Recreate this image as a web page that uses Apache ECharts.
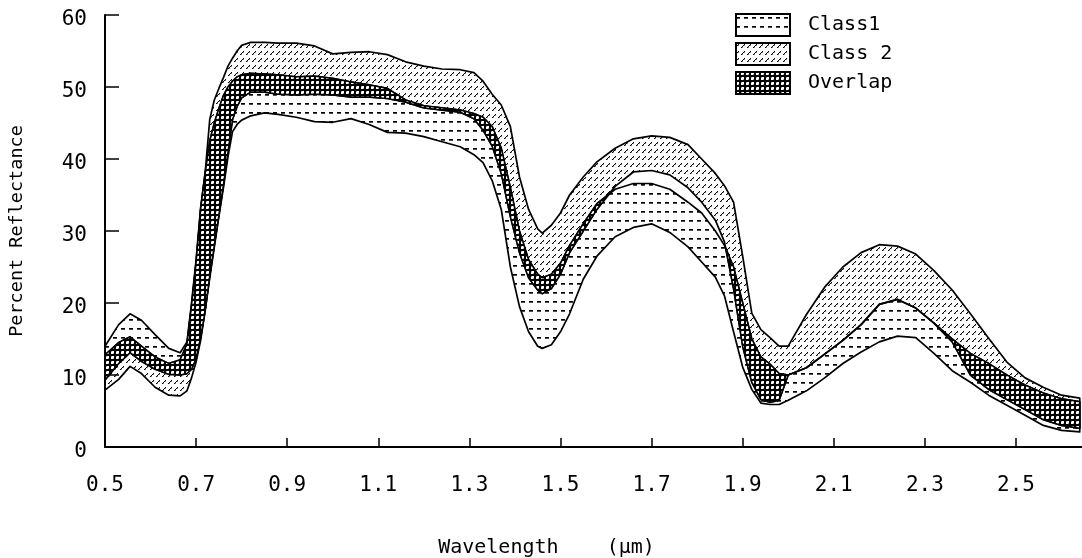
<!DOCTYPE html>
<html>
<head>
<meta charset="utf-8">
<script src="https://cdn.jsdelivr.net/npm/echarts@6/dist/echarts.min.js"></script>
<style>
  html, body { margin: 0; padding: 0; background: #ffffff; }
  #chart { width: 1082px; height: 558px; }
</style>
</head>
<body>
<div id="chart"></div>
<script>
// Wavelength samples (µm) shared by every band boundary
const wavelength = [
  0.50, 0.53, 0.555, 0.58, 0.61, 0.64, 0.665, 0.68, 0.69, 0.70,
  0.71, 0.72, 0.73, 0.74, 0.75, 0.76, 0.77, 0.78, 0.79, 0.80,
  0.82, 0.85, 0.88, 0.92, 0.96, 1.00, 1.04, 1.08, 1.12, 1.16,
  1.20, 1.24, 1.28, 1.31, 1.33, 1.35, 1.37, 1.39, 1.41, 1.43,
  1.45, 1.46, 1.48, 1.50, 1.52, 1.55, 1.58, 1.62, 1.66, 1.70,
  1.74, 1.78, 1.81, 1.84, 1.86, 1.88, 1.90, 1.92, 1.94, 1.96,
  1.98, 2.00, 2.04, 2.08, 2.12, 2.16, 2.20, 2.24, 2.28, 2.32,
  2.36, 2.40, 2.44, 2.48, 2.52, 2.56, 2.60, 2.64
];

// Class 1 reflectance range (%)
const class1High = [
  14.0, 17.0, 18.5, 17.6, 15.6, 13.7, 13.1, 14.6, 20.0, 26.0,
  33.3, 38.0, 42.5, 45.0, 47.0, 48.8, 50.0, 50.8, 51.4, 51.7,
  51.9, 51.8, 51.7, 51.4, 51.5, 51.2, 50.7, 50.3, 49.8, 48.2,
  47.4, 47.1, 46.8, 46.3, 45.8, 44.5, 41.5, 36.0, 30.0, 26.0,
  24.0, 23.5, 24.0, 25.5, 28.0, 31.0, 33.8, 35.8, 36.6, 36.6,
  35.8, 34.0, 32.5, 30.0, 28.0, 25.0, 20.0, 15.0, 12.5, 11.5,
  10.2, 10.0, 11.0, 12.9, 14.8, 17.0, 19.8, 20.5, 19.3, 17.2,
  15.0, 13.0, 11.6, 10.0, 8.6, 7.5, 6.7, 6.3
];
const class1Low = [
  9.3, 11.6, 13.1, 11.9, 10.8, 10.1, 10.0, 10.2, 10.8, 12.3,
  15.2, 19.0, 23.5, 27.8, 32.0, 36.0, 40.3, 43.8, 44.8, 45.4,
  46.0, 46.4, 46.2, 45.8, 45.2, 45.1, 45.6, 44.8, 43.7, 43.6,
  43.1, 42.4, 41.7, 40.6, 39.5, 37.0, 33.0, 25.0, 19.5, 16.0,
  14.0, 13.7, 14.2, 16.0, 18.5, 23.3, 26.5, 29.2, 30.5, 31.0,
  29.8, 27.8, 25.7, 23.6, 21.0, 16.0, 11.1, 8.0, 6.1, 5.9,
  5.9, 6.5, 7.8, 9.6, 11.6, 13.2, 14.6, 15.4, 15.2, 13.0,
  10.6, 9.0, 7.2, 5.8, 4.4, 3.0, 2.3, 2.1
];

// Class 2 reflectance range (%)
const class2High = [
  12.8, 14.5, 15.3, 14.0, 12.5, 11.6, 12.1, 14.3, 19.6, 25.6,
  33.0, 38.2, 45.5, 48.2, 49.8, 51.3, 52.9, 54.0, 55.0, 55.8,
  56.2, 56.2, 56.1, 56.1, 55.7, 54.6, 54.8, 54.9, 54.5, 53.5,
  52.9, 52.5, 52.4, 52.0, 50.8, 49.0, 47.5, 44.5, 37.5, 33.0,
  30.3, 29.7, 30.8, 32.5, 35.0, 37.5, 39.6, 41.5, 42.8, 43.2,
  43.0, 42.0, 40.0, 38.0, 36.3, 34.0, 26.5, 18.6, 16.3, 15.2,
  14.0, 14.0, 18.4, 22.2, 25.0, 27.0, 28.1, 27.9, 26.8, 24.5,
  21.8, 18.5, 15.1, 11.8, 9.6, 8.3, 7.2, 6.8
];
const class2Low = [
  7.9, 9.4, 11.2, 10.2, 8.3, 7.2, 7.1, 7.8, 9.6, 11.8,
  14.8, 19.0, 23.8, 28.0, 32.2, 36.4, 41.0, 45.5, 47.3, 48.5,
  49.3, 49.3, 49.0, 48.9, 49.0, 48.9, 48.6, 48.6, 48.4, 47.9,
  47.1, 46.8, 46.5, 45.6, 44.0, 41.8, 38.0, 32.0, 27.0, 23.5,
  21.8, 21.3, 22.0, 24.0, 27.0, 30.0, 33.0, 36.2, 38.2, 38.4,
  37.8, 36.0, 34.0, 31.5, 28.5, 22.0, 14.0, 9.0, 6.6, 6.2,
  6.5, 10.0, 11.0, 12.9, 14.8, 17.0, 19.8, 20.5, 19.3, 17.2,
  14.6, 10.0, 8.0, 6.6, 5.2, 3.8, 3.0, 2.6
];

const xTicks = [0.5, 0.7, 0.9, 1.1, 1.3, 1.5, 1.7, 1.9, 2.1, 2.3, 2.5];
const yTicks = [0, 10, 20, 30, 40, 50, 60];
const legendNames = ['Class1', 'Class 2', 'Overlap'];

const FONT = 'DejaVu Sans Mono';

// ---- fill patterns -------------------------------------------------------
function makeTile(w, h, draw) {
  const c = document.createElement('canvas');
  c.width = w; c.height = h;
  const g = c.getContext('2d');
  draw(g, w, h);
  return c;
}
// horizontal dashes
const dashTile = makeTile(8, 9, (g) => {
  g.fillStyle = '#000';
  g.fillRect(1, 4, 4, 1);
  g.fillStyle = 'rgba(0,0,0,0.7)';
  g.fillRect(1, 5, 4, 1);
});
// short diagonal strokes
const slashTile = makeTile(6, 7, (g) => {
  g.fillStyle = '#000';
  g.fillRect(0, 5, 1, 1);
  g.fillRect(1, 4, 1, 1);
  g.fillRect(2, 3, 1, 1);
  g.fillRect(3, 2, 1, 1);
  g.fillStyle = 'rgba(0,0,0,0.45)';
  g.fillRect(1, 5, 1, 1);
  g.fillRect(3, 3, 1, 1);
});
// dark checker
const checkTile = makeTile(5, 5, (g) => {
  g.fillStyle = '#000';
  g.fillRect(0, 0, 5, 5);
  g.fillStyle = '#fff';
  g.fillRect(1, 1, 3, 3);
  g.fillStyle = 'rgba(0,0,0,0.35)';
  g.fillRect(1, 1, 1, 1);
  g.fillRect(3, 3, 1, 1);
});

function pattern(tile) {
  return { image: tile, repeat: 'repeat' };
}

function legendIcon(tile) {
  const c = document.createElement('canvas');
  c.width = 56; c.height = 24;
  const g = c.getContext('2d');
  g.fillStyle = '#fff';
  g.fillRect(0, 0, 56, 24);
  g.fillStyle = g.createPattern(tile, 'repeat');
  g.fillRect(2, 2, 52, 20);
  g.strokeStyle = '#000';
  g.lineWidth = 2;
  g.strokeRect(1, 1, 54, 22);
  return 'image://' + c.toDataURL();
}

// ---- overlap of the two ranges ------------------------------------------
function buildOverlapRuns() {
  const steps = 12;
  const pts = [];
  const n = wavelength.length;
  for (let i = 0; i < n - 1; i++) {
    const last = i === n - 2 ? steps : steps - 1;
    for (let s = 0; s <= last; s++) {
      const t = s / steps;
      const at = (a) => a[i] + (a[i + 1] - a[i]) * t;
      pts.push({
        x: wavelength[i] + (wavelength[i + 1] - wavelength[i]) * t,
        top: Math.min(at(class1High), at(class2High)),
        bot: Math.max(at(class1Low), at(class2Low))
      });
    }
  }
  const cross = (p, q) => {
    const dp = p.top - p.bot, dq = q.top - q.bot;
    const f = dp / (dp - dq);
    const y = p.bot + (q.bot - p.bot) * f;
    return { x: p.x + (q.x - p.x) * f, top: y, bot: y };
  };
  const runs = [];
  let cur = null;
  for (let j = 0; j < pts.length; j++) {
    const p = pts[j];
    if (p.top - p.bot > 0) {
      if (!cur) {
        cur = [];
        if (j > 0) cur.push(cross(pts[j - 1], p));
      }
      cur.push(p);
    } else if (cur) {
      cur.push(cross(pts[j - 1], p));
      runs.push(cur);
      cur = null;
    }
  }
  if (cur) runs.push(cur);
  return runs;
}
const overlapRuns = buildOverlapRuns();

// ---- series ---------------------------------------------------------------
function bandSeries(name, low, high, tile, z) {
  return {
    type: 'custom',
    name: name,
    coordinateSystem: 'cartesian2d',
    silent: true,
    z: z,
    data: [[wavelength[0], low[0]]],
    renderItem: function (params, api) {
      const points = [];
      for (let i = 0; i < wavelength.length; i++) points.push(api.coord([wavelength[i], high[i]]));
      for (let i = wavelength.length - 1; i >= 0; i--) points.push(api.coord([wavelength[i], low[i]]));
      return {
        type: 'polygon',
        shape: { points: points },
        style: { fill: pattern(tile), stroke: '#000', lineWidth: 1.7, lineJoin: 'round' }
      };
    }
  };
}

const overlapSeries = {
  type: 'custom',
  name: 'Overlap',
  coordinateSystem: 'cartesian2d',
  silent: true,
  z: 4,
  data: overlapRuns.map((run) => [run[0].x, run[0].bot]),
  renderItem: function (params, api) {
    const run = overlapRuns[params.dataIndex];
    const points = [];
    for (let i = 0; i < run.length; i++) points.push(api.coord([run[i].x, run[i].top]));
    for (let i = run.length - 1; i >= 0; i--) points.push(api.coord([run[i].x, run[i].bot]));
    return {
      type: 'polygon',
      shape: { points: points },
      style: { fill: pattern(checkTile), stroke: '#000', lineWidth: 1.5, lineJoin: 'round' }
    };
  }
};

const chart = echarts.init(document.getElementById('chart'), null, { renderer: 'canvas' });

chart.setOption({
  backgroundColor: '#ffffff',
  animation: false,
  grid: { left: 105, right: 0, top: 15, bottom: 111, outerBoundsMode: 'none', containLabel: false },
  legend: {
    orient: 'vertical',
    left: 735,
    top: 13,
    padding: 0,
    itemWidth: 56,
    itemHeight: 24,
    itemGap: 5,
    selectedMode: false,
    textStyle: { fontFamily: FONT, fontSize: 20, color: '#000', padding: [2, 0, 0, 12] },
    data: [
      { name: legendNames[0], icon: legendIcon(dashTile) },
      { name: legendNames[1], icon: legendIcon(slashTile) },
      { name: legendNames[2], icon: legendIcon(checkTile) }
    ]
  },
  xAxis: {
    type: 'value',
    min: 0.5,
    max: 2.645,
    interval: 0.2,
    name: 'Wavelength    (µm)',
    nameLocation: 'middle',
    nameGap: 91,
    nameTextStyle: { fontFamily: FONT, fontSize: 20, color: '#000', padding: [0, 94, 0, 0] },
    axisLine: { lineStyle: { color: '#000', width: 2 } },
    axisTick: { inside: true, length: 9, lineStyle: { color: '#000', width: 1.5 } },
    axisLabel: {
      margin: 28,
      fontFamily: FONT,
      fontSize: 21,
      color: '#000',
      showMaxLabel: false,
      formatter: (v) => (xTicks.some((t) => Math.abs(t - v) < 1e-6) ? v.toFixed(1) : '')
    },
    splitLine: { show: false }
  },
  yAxis: {
    type: 'value',
    min: yTicks[0],
    max: yTicks[yTicks.length - 1],
    interval: 10,
    name: 'Percent Reflectance',
    nameLocation: 'middle',
    nameGap: 78,
    nameTextStyle: { fontFamily: FONT, fontSize: 18.5, color: '#000' },
    axisLine: { lineStyle: { color: '#000', width: 2 } },
    axisTick: { inside: true, length: 14, lineStyle: { color: '#000', width: 1.5 } },
    axisLabel: {
      margin: 18,
      color: '#000',
      formatter: (v) => '{n|' + v + '}',
      rich: { n: { fontFamily: FONT, fontSize: 21, color: '#000', padding: [9, 0, 0, 0] } }
    },
    splitLine: { show: false }
  },
  series: [
    bandSeries(legendNames[1], class2Low, class2High, slashTile, 2),
    bandSeries(legendNames[0], class1Low, class1High, dashTile, 3),
    overlapSeries
  ]
});
</script>
</body>
</html>
